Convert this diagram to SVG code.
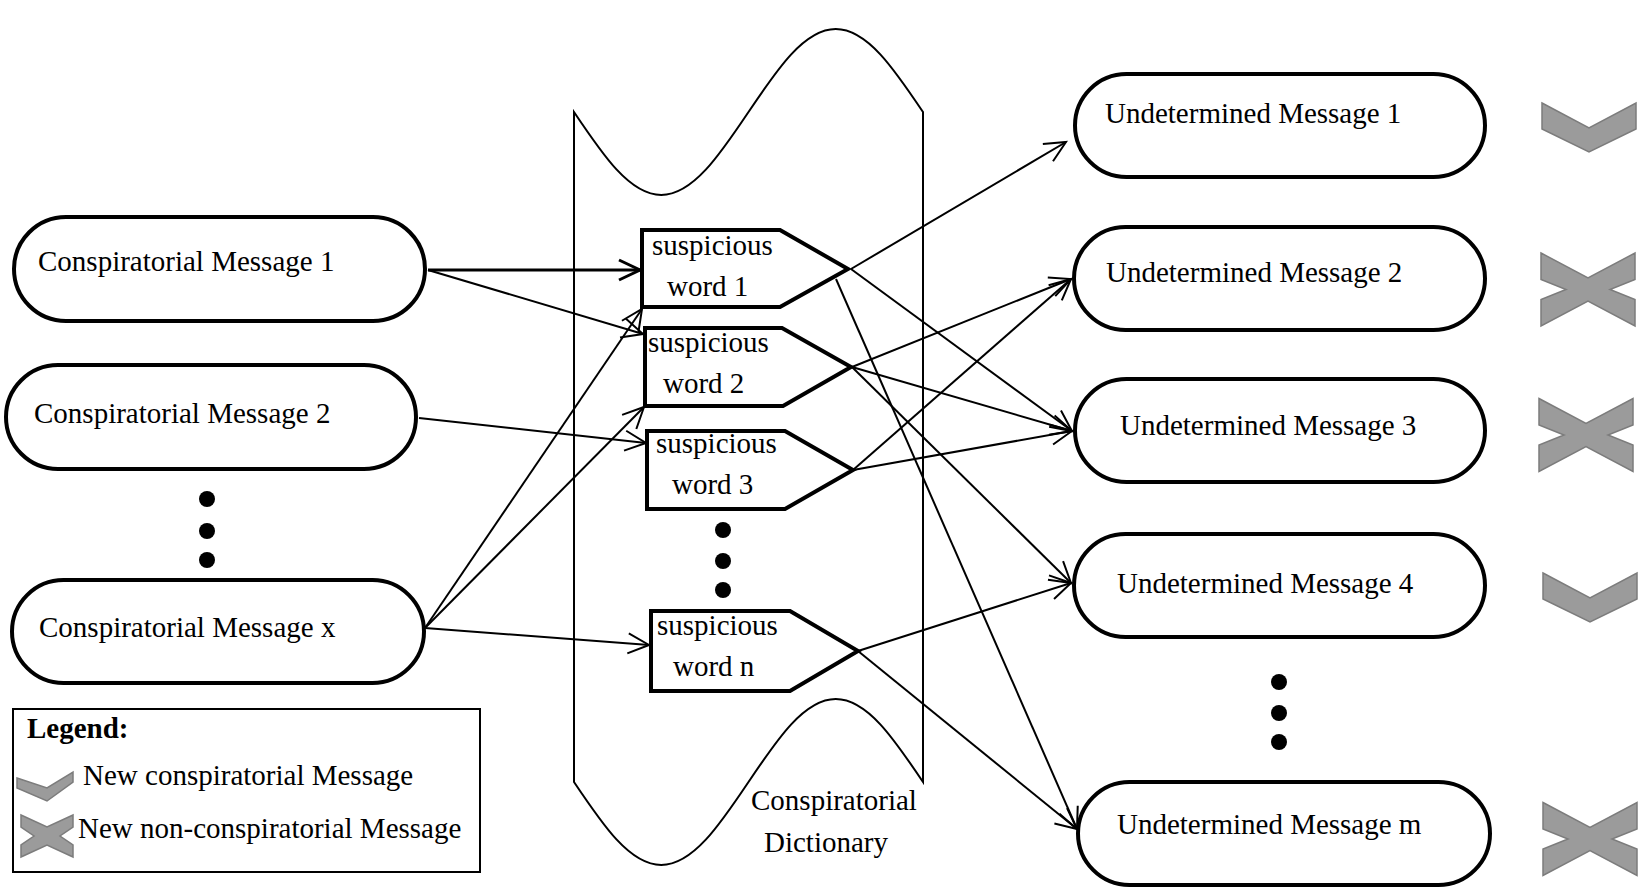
<svg xmlns="http://www.w3.org/2000/svg" width="1638" height="893" viewBox="0 0 1638 893">
<defs>
<style>
text{font-family:"Liberation Serif","Times New Roman",serif;font-size:29px;fill:#000}
.bold{font-weight:bold}
.pill{fill:#fff;stroke:#000;stroke-width:4}
.word{fill:#fff;stroke:#000;stroke-width:4;stroke-linejoin:miter}
.dict{fill:none;stroke:#000;stroke-width:2}
.conn{fill:none;stroke:#000;stroke-width:2;marker-end:url(#arr)}
.conn-thick{fill:none;stroke:#000;stroke-width:3;marker-end:url(#arrT)}
.mark{fill:#9b9b9b;stroke:#7c7c7c;stroke-width:1.5;stroke-linejoin:miter}
.dot{fill:#000}
</style>
<marker id="arr" markerUnits="userSpaceOnUse" viewBox="-25 -15 30 30" refX="0" refY="0" markerWidth="30" markerHeight="30" orient="auto">
<path d="M-21,-10 L0,0 L-21,10" fill="none" stroke="#000" stroke-width="2"/>
</marker>
<marker id="arrT" markerUnits="userSpaceOnUse" viewBox="-25 -15 30 30" refX="0" refY="0" markerWidth="30" markerHeight="30" orient="auto">
<path d="M-21,-10 L0,0 L-21,10" fill="none" stroke="#000" stroke-width="3"/>
</marker>
</defs>
<rect width="1638" height="893" fill="#fff"/>

<g id="dictionary">
<path class="dict" d="M574,782 L574,112 C602.5,154.5 629.7,195 661.25,195 C692.8,195 720,154.5 748.5,112 C777,69.5 804.2,29 835.75,29 C867.3,29 894.5,69.5 923,112 L923,782 C894.5,739.5 867.3,699 835.75,699 C804.2,699 777,739.5 748.5,782 C720,824.5 692.8,865 661.25,865 C629.7,865 602.5,824.5 574,782 Z"/>
<text x="751" y="810">Conspiratorial</text>
<text x="764" y="852">Dictionary</text>
</g>

<g id="connectors">
<line class="conn-thick" x1="428" y1="270" x2="640" y2="270"/>
<line class="conn" x1="428" y1="270" x2="643" y2="334"/>
<line class="conn" x1="419" y1="418" x2="646" y2="443"/>
<line class="conn" x1="425" y1="628" x2="642" y2="309"/>
<line class="conn" x1="425" y1="628" x2="644" y2="407"/>
<line class="conn" x1="425" y1="628" x2="649" y2="645"/>
<line class="conn" x1="851" y1="269" x2="1066" y2="142"/>
<line class="conn" x1="851" y1="269" x2="1072" y2="431"/>
<line class="conn" x1="836" y1="279" x2="1077" y2="829"/>
<line class="conn" x1="852" y1="367" x2="1071" y2="279"/>
<line class="conn" x1="852" y1="367" x2="1072" y2="431"/>
<line class="conn" x1="852" y1="367" x2="1071" y2="583"/>
<line class="conn" x1="853" y1="470" x2="1071" y2="279"/>
<line class="conn" x1="853" y1="470" x2="1072" y2="431"/>
<line class="conn" x1="858" y1="651" x2="1071" y2="583"/>
<line class="conn" x1="858" y1="651" x2="1077" y2="829"/>
</g>

<g id="cm1"><rect class="pill" x="14" y="217" width="411" height="104" rx="52"/><text x="38" y="271">Conspiratorial Message 1</text></g>
<g id="cm2"><rect class="pill" x="6" y="365" width="410" height="104" rx="52"/><text x="34" y="423">Conspiratorial Message 2</text></g>
<g id="cm-dots"><circle class="dot" cx="207" cy="499" r="8"/><circle class="dot" cx="207" cy="531" r="8"/><circle class="dot" cx="207" cy="560" r="8"/></g>
<g id="cmx"><rect class="pill" x="12" y="580" width="412" height="103" rx="51.5"/><text x="39" y="637">Conspiratorial Message x</text></g>

<g id="word1"><polygon class="word" points="642,230 780,230 848,269 780,307 642,307"/><text x="652" y="255">suspicious</text><text x="667" y="296">word 1</text></g>
<g id="word2"><polygon class="word" points="645,328 782,328 851,367 783,406 645,406"/><text x="648" y="352">suspicious</text><text x="663" y="393">word 2</text></g>
<g id="word3"><polygon class="word" points="647,431 785,431 853,470 785,509 647,509"/><text x="656" y="453">suspicious</text><text x="672" y="494">word 3</text></g>
<g id="word-dots"><circle class="dot" cx="723" cy="530" r="8"/><circle class="dot" cx="723" cy="561" r="8"/><circle class="dot" cx="723" cy="590" r="8"/></g>
<g id="wordn"><polygon class="word" points="651,611 790,611 858,651 790,691 651,691"/><text x="657" y="635">suspicious</text><text x="673" y="676">word n</text></g>

<g id="um1"><rect class="pill" x="1075" y="74" width="410" height="103" rx="51.5"/><text x="1105" y="123">Undetermined Message 1</text></g>
<g id="um2"><rect class="pill" x="1074" y="227" width="411" height="103" rx="51.5"/><text x="1106" y="282">Undetermined Message 2</text></g>
<g id="um3"><rect class="pill" x="1075" y="379" width="410" height="103" rx="51.5"/><text x="1120" y="435">Undetermined Message 3</text></g>
<g id="um4"><rect class="pill" x="1074" y="534" width="411" height="103" rx="51.5"/><text x="1117" y="593">Undetermined Message 4</text></g>
<g id="um-dots"><circle class="dot" cx="1279" cy="682" r="8"/><circle class="dot" cx="1279" cy="713" r="8"/><circle class="dot" cx="1279" cy="742" r="8"/></g>
<g id="umm"><rect class="pill" x="1078" y="782" width="412" height="103" rx="51.5"/><text x="1117" y="834">Undetermined Message m</text></g>

<g id="marks">
<polygon class="mark" transform="translate(1589,103)" points="-47,0 0,25 47,0 47,26 0,49 -47,26"/>
<polygon class="mark" transform="translate(1588,289.5)" points="-47,-36.5 0,-11.5 47,-36.5 47,-10 22,0 47,10 47,36.5 0,11.5 -47,36.5 -47,10 -22,0 -47,-10"/>
<polygon class="mark" transform="translate(1586,435)" points="-47,-36.5 0,-11.5 47,-36.5 47,-10 22,0 47,10 47,36.5 0,11.5 -47,36.5 -47,10 -22,0 -47,-10"/>
<polygon class="mark" transform="translate(1590,573)" points="-47,0 0,25 47,0 47,26 0,49 -47,26"/>
<polygon class="mark" transform="translate(1590,839)" points="-47,-36.5 0,-11.5 47,-36.5 47,-10 22,0 47,10 47,36.5 0,11.5 -47,36.5 -47,10 -22,0 -47,-10"/>
</g>

<g id="legend">
<rect x="13" y="709" width="467" height="163" fill="#fff" stroke="#000" stroke-width="2"/>
<text class="bold" x="27" y="738">Legend:</text>
<polygon class="mark" points="17,778 47,788 73,772 73,782 47,801 17,788"/>
<text x="83" y="785">New conspiratorial Message</text>
<polygon class="mark" transform="translate(47,836)" points="-26,-21 0,-9 26,-21 26,-9 13,0 26,9 26,21 0,9 -26,21 -26,9 -13,0 -26,-9"/>
<text x="78" y="838">New non-conspiratorial Message</text>
</g>
</svg>
